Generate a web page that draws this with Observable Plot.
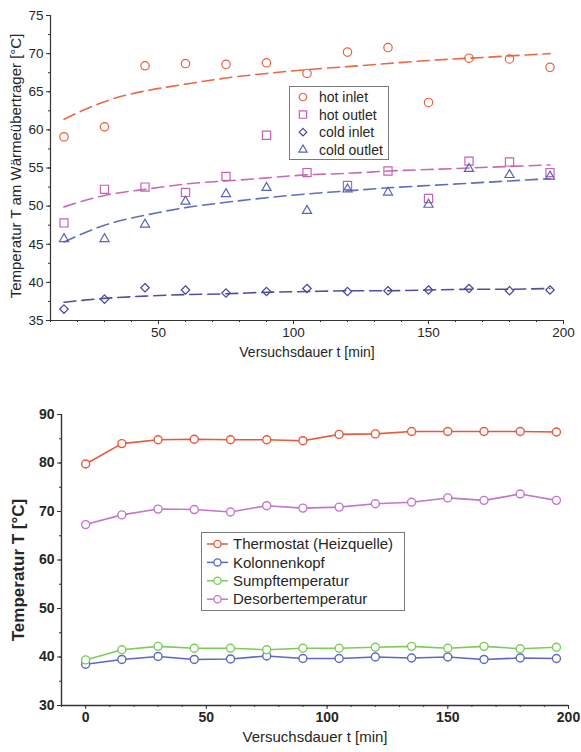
<!DOCTYPE html>
<html><head><meta charset="utf-8">
<script src="https://cdn.jsdelivr.net/npm/d3@7"></script>
<script src="https://cdn.jsdelivr.net/npm/@observablehq/plot@0.6"></script>
<style>
body{margin:0;background:#fff;}
#wrap{position:relative;width:581px;height:752px;font-family:"Liberation Sans",Arial,sans-serif;background:#fff;}
#wrap svg{display:block;}
.legend{position:absolute;overflow:visible;}
</style></head><body><div id="wrap"></div>
<script>
// ---------- top chart data ----------
const tTop = [15, 30, 45, 60, 75, 90, 105, 120, 135, 150, 165, 180, 195];
const hotInlet   = [59.1, 60.4, 68.4, 68.7, 68.6, 68.8, 67.4, 70.2, 70.8, 63.6, 69.4, 69.3, 68.2];
const hotOutlet  = [47.8, 52.2, 52.5, 51.8, 53.9, 59.3, 54.4, 52.7, 54.6, 51.0, 55.9, 55.8, 54.4];
const coldInlet  = [36.5, 37.8, 39.3, 39.0, 38.6, 38.8, 39.2, 38.8, 38.9, 39.0, 39.2, 38.9, 39.0];
const coldOutlet = [45.7, 45.7, 47.6, 50.6, 51.6, 52.4, 49.4, 52.2, 51.8, 50.2, 54.9, 54.1, 53.9];
// dashed fit curves, read at the same times
const fitHotInlet   = [61.4, 63.7, 65.1, 66.0, 66.8, 67.4, 67.9, 68.3, 68.7, 69.1, 69.4, 69.7, 70.0];
const fitHotOutlet  = [49.9, 51.4, 52.2, 52.9, 53.3, 53.7, 54.1, 54.3, 54.6, 54.8, 55.0, 55.2, 55.4];
const fitColdInlet  = [37.4, 37.9, 38.2, 38.4, 38.5, 38.7, 38.8, 38.9, 38.9, 39.0, 39.1, 39.1, 39.2];
const fitColdOutlet = [45.3, 47.5, 48.8, 49.8, 50.5, 51.1, 51.6, 52.0, 52.4, 52.7, 53.0, 53.3, 53.6];
const topNames = ["hot inlet", "hot outlet", "cold inlet", "cold outlet"];
const xDomTop = [10, 200], yDomTop = [35, 75];
const xTicksTop = [50, 100, 150, 200];
const yTicksTop = [35, 40, 45, 50, 55, 60, 65, 70, 75];
const topXLabel = "Versuchsdauer t [min]";
const topYLabel = "Temperatur T am Wärmeübertrager [°C]";

// ---------- bottom chart data ----------
const tBot = [0, 15, 30, 45, 60, 75, 90, 105, 120, 135, 150, 165, 180, 195];
const thermostat = [79.8, 84.0, 84.8, 84.9, 84.8, 84.8, 84.6, 85.9, 86.0, 86.5, 86.5, 86.5, 86.5, 86.4];
const kolonnenkopf = [38.5, 39.5, 40.1, 39.5, 39.6, 40.2, 39.7, 39.7, 40.0, 39.8, 40.0, 39.5, 39.8, 39.7];
const sumpf = [39.4, 41.5, 42.2, 41.8, 41.8, 41.5, 41.8, 41.8, 42.0, 42.2, 41.8, 42.2, 41.7, 42.0];
const desorber = [67.3, 69.3, 70.5, 70.4, 69.9, 71.2, 70.7, 70.9, 71.6, 71.9, 72.8, 72.3, 73.6, 72.3];
const botNames = ["Thermostat (Heizquelle)", "Kolonnenkopf", "Sumpftemperatur", "Desorbertemperatur"];
const xDomBot = [-10, 200], yDomBot = [30, 90];
const xTicksBot = [0, 50, 100, 150, 200];
const yTicksBot = [30, 40, 50, 60, 70, 80, 90];
const botXLabel = "Versuchsdauer t [min]";
const botYLabel = "Temperatur T [°C]";

const FONT = '"Liberation Sans", Arial, sans-serif';
const wrap = document.getElementById("wrap");

// ---------- top chart ----------
const topSeries = [
  {name: topNames[0], vals: hotInlet,   fit: fitHotInlet,   color: "#e8603c", symbol: "circle",   r: 4.2},
  {name: topNames[1], vals: hotOutlet,  fit: fitHotOutlet,  color: "#c462b4", symbol: "square",   r: 4.6},
  {name: topNames[2], vals: coldInlet,  fit: fitColdInlet,  color: "#46469c", symbol: "diamond2", r: 3.8},
  {name: topNames[3], vals: coldOutlet, fit: fitColdOutlet, color: "#5a64b8", symbol: "triangle", r: 3.4}
];
const range = (a, b, s) => d3.range(a, b + s / 2, s);

const topChart = Plot.plot({
  width: 581, height: 365,
  marginLeft: 50, marginRight: 18, marginTop: 15, marginBottom: 45,
  style: {fontFamily: FONT, fontSize: "13.5px", color: "#262626", background: "white", overflow: "visible"},
  x: {domain: xDomTop},
  y: {domain: yDomTop},
  marks: [
    Plot.ruleX([xDomTop[0]], {stroke: "#333", strokeWidth: 1.2}),
    Plot.ruleY([yDomTop[0]], {stroke: "#333", strokeWidth: 1.2}),
    Plot.axisX({ticks: range(10, 200, 10), tickSize: 2, tickFormat: () => "", label: null, stroke: "#333"}),
    Plot.axisY({ticks: range(35, 75, 2.5), tickSize: 2, tickFormat: () => "", label: null, stroke: "#333"}),
    Plot.axisX({ticks: xTicksTop, tickSize: 4, tickPadding: 3, label: null, stroke: "#333"}),
    Plot.axisY({ticks: yTicksTop, tickSize: 4, tickPadding: 3, label: null, stroke: "#333"}),
    ...topSeries.map(s => Plot.line(tTop, {x: d => d, y: (d, i) => s.fit[i], stroke: s.color, strokeWidth: 1.6, strokeDasharray: "12,6", curve: "natural", strokeOpacity: 0.95})),
    ...topSeries.map(s => Plot.dot(tTop, {x: d => d, y: (d, i) => s.vals[i], symbol: s.symbol, r: s.r, stroke: s.color, strokeWidth: 1.2, fill: "none"})),
    Plot.text([topXLabel], {frameAnchor: "bottom", dy: 36, fontSize: 14, fill: "#262626"}),
    Plot.text([topYLabel], {frameAnchor: "left", textAnchor: "middle", dx: -34, dy: -2, rotate: -90, fontSize: 15, fill: "#262626"})
  ]
});
wrap.appendChild(topChart);

// ---------- bottom chart ----------
const botSeries = [
  {name: botNames[0], vals: thermostat,   color: "#e8583a"},
  {name: botNames[1], vals: kolonnenkopf, color: "#5a68c6"},
  {name: botNames[2], vals: sumpf,        color: "#7ccc58"},
  {name: botNames[3], vals: desorber,     color: "#c276cc"}
];
const botChart = Plot.plot({
  width: 581, height: 387,
  marginLeft: 61, marginRight: 13, marginTop: 49, marginBottom: 47,
  style: {fontFamily: FONT, fontSize: "14px", fontWeight: "bold", color: "#262626", background: "white", overflow: "visible"},
  x: {domain: xDomBot},
  y: {domain: yDomBot},
  marks: [
    Plot.ruleX([xDomBot[0]], {stroke: "#333", strokeWidth: 1.4}),
    Plot.ruleY([yDomBot[0]], {stroke: "#333", strokeWidth: 1.4}),
    Plot.axisX({ticks: range(-10, 200, 10), tickSize: 2, tickFormat: () => "", label: null, stroke: "#333"}),
    Plot.axisY({ticks: range(30, 90, 5), tickSize: 2, tickFormat: () => "", label: null, stroke: "#333"}),
    Plot.axisX({ticks: xTicksBot, tickSize: 4, tickPadding: 3, label: null, stroke: "#333"}),
    Plot.axisY({ticks: yTicksBot, tickSize: 4, tickPadding: 3, label: null, stroke: "#333"}),
    ...botSeries.map(s => Plot.line(tBot, {x: d => d, y: (d, i) => s.vals[i], stroke: s.color, strokeWidth: 1.6})),
    ...botSeries.map(s => Plot.dot(tBot, {x: d => d, y: (d, i) => s.vals[i], r: 4, stroke: s.color, strokeWidth: 1.4, fill: "white"})),
    Plot.text([botXLabel], {frameAnchor: "bottom", dy: 36, fontSize: 15, fontWeight: "normal", fill: "#262626"}),
    Plot.text([botYLabel], {frameAnchor: "left", textAnchor: "middle", dx: -43, dy: 10, rotate: -90, fontSize: 17, fontWeight: "bold", fill: "#262626"})
  ]
});
wrap.appendChild(botChart);

// ---------- legends (overlays) ----------
const symMap = {circle: d3.symbolCircle, square: d3.symbolSquare, diamond2: d3.symbolDiamond2 || d3.symbolDiamond, triangle: d3.symbolTriangle};
function topLegend() {
  const w = 100, h = 74;
  const svg = d3.select(wrap).append("svg").attr("class", "legend")
    .style("left", "289px").style("top", "86px").attr("width", w).attr("height", h);
  svg.append("rect").attr("x", 0.5).attr("y", 0.5).attr("width", w - 1).attr("height", h - 1)
    .attr("fill", "white").attr("stroke", "#7a7a7a");
  topSeries.forEach((s, i) => {
    const y = 11 + i * 17.6;
    svg.append("path").attr("transform", `translate(14,${y})`)
      .attr("d", d3.symbol(symMap[s.symbol], Math.PI * s.r * s.r * 0.8)())
      .attr("fill", "none").attr("stroke", s.color).attr("stroke-width", 1.2);
    svg.append("text").attr("x", 30).attr("y", y).attr("dy", "0.35em")
      .attr("font-family", FONT).attr("font-size", 14).attr("fill", "#262626").text(s.name);
  });
}
function botLegend() {
  const w = 204, h = 79;
  const svg = d3.select(wrap).append("svg").attr("class", "legend")
    .style("left", "201px").style("top", "532px").attr("width", w).attr("height", h);
  svg.append("rect").attr("x", 0.5).attr("y", 0.5).attr("width", w - 1).attr("height", h - 1)
    .attr("fill", "white").attr("stroke", "#7a7a7a");
  botSeries.forEach((s, i) => {
    const y = 12 + i * 18.4;
    svg.append("line").attr("x1", 6).attr("x2", 27).attr("y1", y).attr("y2", y)
      .attr("stroke", s.color).attr("stroke-width", 1.5);
    svg.append("circle").attr("cx", 16.5).attr("cy", y).attr("r", 3.6)
      .attr("fill", "white").attr("stroke", s.color).attr("stroke-width", 1.3);
    svg.append("text").attr("x", 32).attr("y", y).attr("dy", "0.35em")
      .attr("font-family", FONT).attr("font-size", 15).attr("fill", "#262626").text(s.name);
  });
}
topLegend();
botLegend();
</script>
</body></html>
